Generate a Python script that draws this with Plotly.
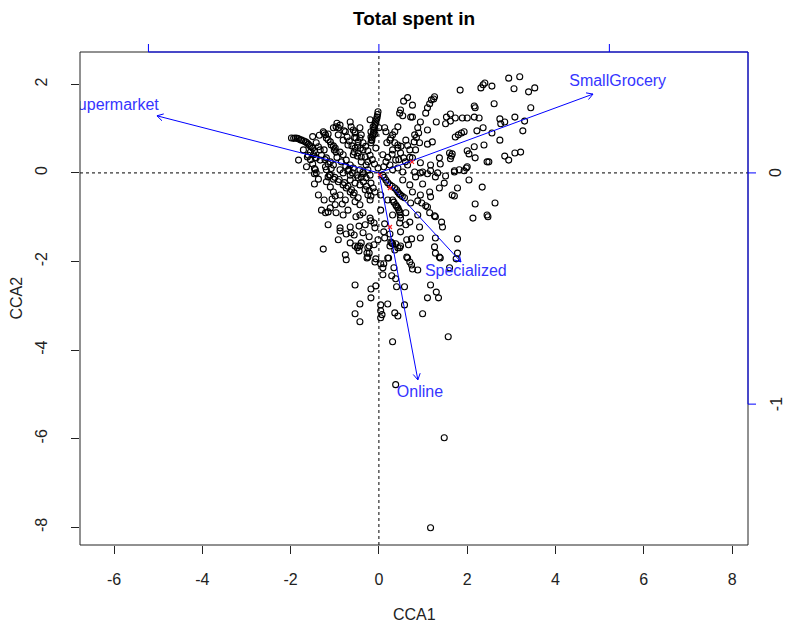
import math
import plotly.graph_objects as go

# Site scores (CCA1, CCA2), listed row by row in matching order
site_cca1 = [
    2.94, 3.19, 2.40, 2.31, 2.36, 2.56, 1.84, 3.06, 3.39, 3.53,
    2.18, 2.16, 2.61, 3.44, 1.62, 1.53, 1.73, 1.89, 2.00, 2.16,
    2.27, 2.74, 3.08, 3.30, 2.85, 2.76, 3.26, 1.30, 1.51, 1.62,
    1.10, 1.73, 1.80, 1.87, 1.93, 2.22, 2.36, 2.56, 2.74, 0.92,
    1.10, 1.21, 2.38, 1.60, 1.66, 2.00, 2.04, 2.18, 2.85, 3.08,
    3.21, 2.94, 0.76, 0.94, 1.17, 1.37, 1.39, 2.45, 2.49, 0.81,
    0.99, 1.17, 1.33, 1.71, 1.93, 2.00, 1.82, 1.98, 1.62, 1.64,
    2.16, 1.26, 1.19, 1.15, 1.10, 1.06, 1.24, 0.94, 0.88, 0.81,
    0.76, 0.76, 0.72, 0.49, 0.47, 0.54, 0.43, 0.36, 0.31, 0.27,
    0.25, 0.18, 0.43, 0.13, 0.16, 0.36, 0.43, 0.49, 0.09, 0.16,
    0.25, -0.02, -0.04, -0.07, -0.09, -0.11, -0.13, -0.16, -0.18, -0.20,
    0.00, -0.09, -0.13, -0.18, -0.18, -0.16, -0.36, -0.07, -0.02, -0.43,
    -0.54, -0.40, -0.43, -0.65, -0.63, -0.58, -0.54, -0.52, -0.47, -0.97,
    -0.92, -0.92, -0.76, -1.26, -1.21, -1.19, -1.10, -1.08, -0.99, -0.97,
    -1.42, -1.37, -1.33, -1.89, -1.82, -1.75, -1.66, -1.60, -1.53, -1.98,
    -1.64, -1.44, -1.42, -1.44, -1.55, -1.48, -1.42, -1.33, -1.19, -1.10,
    -1.03, -0.88, -0.81, -0.74, -0.65, -0.58, -0.54, -0.47, -0.40, -0.31,
    -0.25, -0.25, -0.88, -0.81, -0.65, -1.21, -1.19, -0.81, -0.70, -1.03,
    -1.15, -1.71, -1.82, -1.62, -1.24, -0.58, -0.36, -0.29, -0.43, -1.12,
    -1.46, -1.30, -1.21, -1.15, -1.10, -0.97, -0.83, -0.65, -0.63, -0.52,
    -0.36, -0.31, -0.88, -0.88, -0.65, -0.54, -0.49, -0.43, -0.36, -0.22,
    -0.25, -0.22, -0.25, -0.11, -0.07, 0.22, -0.20, -0.18, -0.11, -0.09,
    0.04, 0.13, 0.25, 0.38, 0.43, 0.49, 0.63, 0.67, 0.47, -1.26,
    -0.76, -0.74, -1.10, -1.19, -1.37, -1.46, -1.03, -0.99, -1.06, -0.65,
    -0.54, -0.43, -0.31, -0.25, -0.20, -0.18, -0.13, -0.09, 0.09, 0.16,
    0.25, 0.36, 0.43, 0.49, 0.58, 0.31, 0.38, 0.43, 0.47, 0.49,
    0.61, 0.61, 0.72, -1.15, -1.03, -0.92, -0.81, -0.74, -0.65, -0.58,
    -0.54, -0.43, -0.47, -0.76, -0.88, 0.83, 0.94, 1.10, 1.28, 1.51,
    1.71, 2.04, 2.34, 1.78, 1.48, 1.37, 0.99, 1.15, 0.94, 1.66,
    1.17, 0.88, 0.97, 1.06, 1.10, 2.18, 2.63, 1.15, 1.26, 1.28,
    2.45, 2.47, 2.13, 1.42, 1.44, 0.94, 1.78, 1.28, 1.37, 1.39,
    1.75, 0.92, 0.74, 0.49, 0.36, 0.29, 0.11, -0.09, -0.40, -0.27,
    0.04, 0.09, 0.20, 0.09, 0.29, 0.38, 0.34, 0.65, 0.70, 0.74,
    0.76, 0.88, 1.60, -0.54, -0.18, -0.07, 0.40, 0.58, 1.17, 1.30,
    1.35, 1.10, -0.18, -0.43, 0.04, 0.20, 0.58, -0.54, 0.04, 0.07,
    0.04, 0.36, 0.43, 0.99, -0.43, 1.57, 0.31, 0.38, 1.48, 1.17,
    -0.27, -0.22, -0.47, -0.45, -0.56, -0.74, 0.13, 0.25, 0.31, 0.47,
    0.27, 0.63, -0.45, 1.26, 1.78, 1.28, 1.71, -0.29, -0.36, -0.20,
    -0.47, 0.11, 0.31, 0.43, 0.54, 0.65, 0.38, 0.56, 0.70, 0.61,
    0.83, 0.31, 0.54, 0.70, 0.76, 0.88, 0.70, 0.31, 0.20, 0.04,
    0.11, -0.02, -0.43, -0.81, -0.70, -0.99, -1.24, -1.37, -0.92, -1.15,
    -1.24, -1.15, -1.03, -1.01,
    -0.79, -0.72, -0.67, -0.61, -0.56, -0.49, -0.40,
    -0.03, -0.05, -0.08, -0.10, -0.12, -0.14, -0.17,
    -1.93, -1.85, -1.78, -1.70, -1.63, -1.57, -1.50, -1.46,
    -1.60, -1.55, -1.50, -1.46,
    0.12, 0.20, 0.30, 0.40, 0.46, 0.53,
    0.34, 0.40, 0.45, 0.48,
    0.20, 0.30, 0.45, 0.60, 0.70, 0.50, 0.65, 0.80, 0.85, 0.90,
    0.56, 0.65,
    -1.10, -1.00, -0.90, -0.78, -0.70, -0.62, -0.56,
    -0.40, -0.35, -0.28, -0.22, -0.18,
    -0.70, -0.60, -0.50, -0.35,
    -0.95, -0.85, -0.75, -0.68,
    -1.30, -1.22, -1.15, -1.08,
    -0.30, -0.25, -0.20, -0.15, -0.10,
    -0.55, -0.48, -0.42,
    -0.95, -0.88, -1.35, -1.50,
]
site_cca2 = [
    2.14, 2.17, 2.03, 1.92, 1.99, 1.96, 1.87, 1.90, 1.83, 1.92,
    1.47, 1.51, 1.56, 1.47, 1.33, 1.26, 1.24, 1.24, 1.24, 1.26,
    1.24, 1.22, 1.26, 1.17, 1.15, 1.11, 0.95, 1.15, 1.11, 1.17,
    0.97, 0.81, 0.86, 0.90, 0.93, 0.95, 1.02, 0.90, 0.74, 0.68,
    0.65, 0.70, 0.63, 0.45, 0.43, 0.50, 0.43, 0.34, 0.38, 0.45,
    0.47, 0.29, 0.34, 0.23, 0.18, 0.34, 0.20, 0.25, 0.25, 0.02,
    0.02, 0.05, 0.00, 0.05, 0.05, 0.14, 0.07, 0.11, 0.32, 0.38,
    0.59, 1.72, 1.65, 1.56, 1.47, 1.35, 1.67, 1.15, 1.02, 0.86,
    1.26, 1.53, 1.26, 1.42, 1.35, 1.29, 1.04, 0.93, 0.86, 0.79,
    0.74, 0.68, 0.63, 1.02, 0.93, 0.68, 0.56, 0.45, 0.41, 0.25,
    0.18, 1.38, 1.26, 1.17, 1.08, 0.97, 0.88, 0.79, 0.68, 1.20,
    1.02, 0.88, 1.04, 0.93, 0.81, 0.74, 0.68, 0.56, 0.11, 1.02,
    0.93, 0.86, 0.79, 1.15, 1.04, 0.97, 0.90, 0.79, 0.70, 1.04,
    1.02, 0.86, 0.93, 0.93, 0.86, 0.79, 0.70, 0.63, 0.56, 0.47,
    0.68, 0.59, 0.52, 0.79, 0.77, 0.74, 0.70, 0.65, 0.59, 0.79,
    0.14, 0.07, 0.00, 0.34, 0.47, 0.41, 0.34, 0.29, 0.34, 0.25,
    0.18, 0.47, 0.41, 0.29, 0.18, 0.11, 0.56, 0.45, 0.36, 0.36,
    0.25, 0.07, 0.07, 0.00, -0.05, 0.14, 0.07, 0.74, 0.63, 1.02,
    0.88, 0.52, 0.29, 0.36, 0.52, 0.41, 0.52, 0.18, 0.07, -0.05,
    -0.25, -0.84, -0.90, -0.88, -0.79, -0.90, -0.70, -1.22, -1.35, -0.99,
    -0.90, -1.17, -1.24, -1.31, -1.58, -1.65, -1.69, -1.65, -1.35, -1.44,
    -1.69, -1.81, -1.90, -1.62, -1.94, -1.92, -1.02, -1.08, -1.13, -1.24,
    -0.84, -1.15, -1.38, -1.60, -1.69, -1.33, -1.51, -1.62, -1.13, -1.72,
    -1.85, -1.96, -0.32, -0.20, -0.14, -0.02, -0.43, -0.52, -0.59, -0.16,
    -0.23, -0.27, -0.38, -0.50, -0.61, -0.23, -0.34, -0.43, -0.05, -0.16,
    -0.27, -0.34, -0.43, -0.50, -0.56, -0.61, -0.72, -0.79, -0.88, -1.02,
    -1.17, -0.90, -0.68, -0.09, -0.14, -0.20, -0.27, -0.34, -0.43, -0.50,
    -0.65, -0.72, -0.56, -0.61, -0.50, -0.09, 0.00, -0.02, -0.09, -0.07,
    0.02, -0.16, -0.32, -0.34, -0.23, -0.34, -0.25, -0.43, -0.50, -0.50,
    -0.54, -0.63, -0.68, -0.74, -0.77, -0.70, -0.68, -0.90, -0.97, -0.99,
    -0.95, -0.99, -1.02, -1.11, -1.22, -1.47, -1.49, -1.81, -1.90, -1.92,
    -1.94, -1.22, -1.49, -1.65, -1.74, -1.58, -2.05, -2.01, -1.58, -1.92,
    -2.05, -2.14, -1.92, -2.30, -2.32, -2.39, -2.14, -1.92, -2.01, -2.08,
    -2.17, -2.19, -2.14, -2.53, -2.62, -2.55, -2.57, -2.57, -2.53, -2.69,
    -2.82, -2.82, -2.82, -2.96, -2.98, -2.96, -2.98, -3.18, -3.11, -3.20,
    -3.27, -3.16, -3.23, -3.18, -3.36, -3.70, -3.81, -4.78, -5.98, -8.01,
    -1.81, -1.65, -1.65, -1.76, -1.40, -1.38, -1.47, -1.65, -1.60, -1.69,
    -1.56, -1.90, -1.20, -1.67, -1.81, -1.47, -0.52, -0.11, 0.02, -0.05,
    -0.11, 0.14, 0.07, 0.11, 0.02, 0.18, 0.29, 0.34, 0.52, 0.74,
    0.52, 0.52, -0.16, -0.27, -0.43, -0.95, -1.11, -0.95, -0.61, -0.50,
    -1.33, -1.51, -0.95, -0.95, -0.84, -0.72, -0.61, -0.50, -1.51, -1.17,
    0.90, 0.75, 0.61, 0.52,
    0.95, 0.81, 0.72, 0.61, 0.47, 0.38, 0.25,
    1.32, 1.22, 1.12, 1.02, 0.92, 0.84, 0.74,
    0.78, 0.78, 0.75, 0.72, 0.68, 0.62, 0.56, 0.50,
    0.40, 0.30, 0.20, 0.10,
    -0.10, -0.22, -0.30, -0.38, -0.47, -0.53,
    -0.66, -0.75, -0.84, -0.95,
    0.35, 0.42, 0.30, 0.25, 0.35, 0.60, 0.62, 0.70, 0.80, 0.90,
    1.62, 1.70,
    -0.05, -0.10, -0.15, -0.22, -0.30, -0.38, -0.45,
    -0.10, -0.20, -0.30, -0.40, -0.52,
    0.05, 0.00, -0.05, -0.02,
    0.35, 0.25, 0.15, 0.08,
    0.40, 0.30, 0.20, 0.10,
    0.60, 0.50, 0.40, 0.30, 0.20,
    0.80, 0.62, 0.55,
    1.12, 1.08, 0.85, 0.82,
]

# Biplot arrows for the constraining variables (biplot-axis units)
var_names = ["Supermarket", "SmallGrocery", "Specialized", "Online"]
bp_cca1 = [-0.963, 0.929, 0.356, 0.169]
bp_cca2 = [0.247, 0.341, -0.385, -0.895]
# where each variable name is written (biplot-axis units)
lab_cca1 = [-1.154, 1.036, 0.377, 0.178]
lab_cca2 = [0.289, 0.393, -0.427, -0.952]
arrow_mult = 5.22          # scaling of the biplot axes onto the site axes
bp_ticks = [-1, 0, 1]

# Small red markers near the origin
red_cca1 = [0.02, 0.75, 0.25, 0.25]
red_cca2 = [-0.05, 0.25, -0.34, -1.22]

x_ticks = [-6, -4, -2, 0, 2, 4, 6, 8]
y_ticks = [-8, -6, -4, -2, 0, 2]
x_range = [-6.77, 8.36]
y_range = [-8.40, 2.73]

FONT = "Liberation Sans, Arial, Helvetica, sans-serif"
BLUE = "#0000FF"
LABEL_BLUE = "#3535FF"
INK = "#222222"

fig = go.Figure()

# site points
fig.add_trace(go.Scatter(
    x=site_cca1, y=site_cca2, mode="markers",
    marker=dict(symbol="circle-open", size=6, color="#000000",
                line=dict(width=1.1, color="#000000")),
    hoverinfo="skip", showlegend=False,
))

# arrows: shafts and open heads
ax, ay = [], []
hx, hy = [], []
head = 0.16
for bx, by in zip(bp_cca1, bp_cca2):
    ex, ey = bx * arrow_mult, by * arrow_mult
    ax += [0, ex, None]
    ay += [0, ey, None]
    th = math.atan2(ey, ex)
    for s in (1, -1):
        a = th + math.pi + s * math.radians(30)
        hx += [ex, ex + head * math.cos(a), None]
        hy += [ey, ey + head * math.sin(a), None]
fig.add_trace(go.Scatter(x=ax, y=ay, mode="lines",
                         line=dict(color=BLUE, width=1),
                         hoverinfo="skip", showlegend=False))
fig.add_trace(go.Scatter(x=hx, y=hy, mode="lines",
                         line=dict(color=BLUE, width=1),
                         hoverinfo="skip", showlegend=False))

fig.add_trace(go.Scatter(
    x=red_cca1, y=red_cca2, mode="markers",
    marker=dict(symbol="x-thin", size=4, line=dict(width=1.2, color="#FF2020")),
    hoverinfo="skip", showlegend=False,
))

# variable names (clipped to the plotting region)
fig.add_trace(go.Scatter(
    x=[v * arrow_mult for v in lab_cca1],
    y=[v * arrow_mult for v in lab_cca2],
    mode="text", text=var_names, textposition="middle center",
    textfont=dict(family=FONT, size=16, color=LABEL_BLUE),
    cliponaxis=True, hoverinfo="skip", showlegend=False,
))

shapes = [
    # dotted origin lines
    dict(type="line", xref="x", yref="paper", x0=0, x1=0, y0=0, y1=1,
         line=dict(color="black", width=1, dash="dot")),
    dict(type="line", xref="paper", yref="y", x0=0, x1=1, y0=0, y1=0,
         line=dict(color="black", width=1, dash="dot")),
    # frame
    dict(type="rect", xref="paper", yref="paper", x0=0, x1=1, y0=0, y1=1,
         line=dict(color=INK, width=1)),
    # biplot axes (top and right)
    dict(type="line", xref="x", yref="paper", x0=bp_ticks[0] * arrow_mult,
         x1=x_range[1], y0=1, y1=1, line=dict(color=BLUE, width=1)),
    dict(type="line", xref="paper", yref="y", x0=1, x1=1,
         y0=bp_ticks[0] * arrow_mult, y1=y_range[1],
         line=dict(color=BLUE, width=1)),
]
tick_len = 8
plot_w, plot_h = 786 - 80 - 38, 625 - 52 - 80
for t in bp_ticks:
    shapes.append(dict(type="line", xref="x", yref="paper",
                       x0=t * arrow_mult, x1=t * arrow_mult,
                       y0=1, y1=1 + tick_len / plot_h,
                       line=dict(color=BLUE, width=1)))
    if y_range[0] <= t * arrow_mult <= y_range[1]:
        shapes.append(dict(type="line", xref="paper", yref="y",
                           x0=1, x1=1 + tick_len / plot_w,
                           y0=t * arrow_mult, y1=t * arrow_mult,
                           line=dict(color=BLUE, width=1)))

annotations = [
    dict(text="<b>Total spent in</b>", xref="paper", yref="paper",
         x=0.5, y=1 + 34 / plot_h, xanchor="center", yanchor="middle",
         showarrow=False, font=dict(family=FONT, size=19, color="black")),
    dict(text="CCA1", xref="paper", yref="paper", x=0.5, y=-69 / plot_h,
         xanchor="center", yanchor="middle", showarrow=False,
         font=dict(family=FONT, size=16, color=INK)),
    dict(text="CCA2", xref="paper", yref="paper", x=-64 / plot_w, y=0.5,
         xanchor="center", yanchor="middle", textangle=-90, showarrow=False,
         font=dict(family=FONT, size=16, color=INK)),
]
for t in bp_ticks:
    if y_range[0] <= t * arrow_mult <= y_range[1]:
        annotations.append(dict(
            text=str(t), xref="paper", yref="y", x=1 + 28 / plot_w,
            y=t * arrow_mult, xanchor="center", yanchor="middle",
            textangle=-90, showarrow=False,
            font=dict(family=FONT, size=16, color=INK)))

fig.update_layout(
    width=786, height=625,
    margin=dict(l=80, r=38, t=52, b=80),
    paper_bgcolor="white", plot_bgcolor="white",
    showlegend=False,
    shapes=shapes, annotations=annotations,
    xaxis=dict(range=x_range, tickvals=x_ticks,
               ticktext=[str(v) for v in x_ticks],
               ticks="outside", ticklen=tick_len,
               tickcolor=INK, tickwidth=1, showgrid=False, zeroline=False,
               showline=False, ticklabelstandoff=12,
               tickfont=dict(family=FONT, size=16, color=INK)),
    yaxis=dict(range=y_range, tickvals=y_ticks,
               ticktext=[str(v) for v in y_ticks],
               ticks="outside", ticklen=tick_len,
               tickcolor=INK, tickwidth=1, showgrid=False, zeroline=False,
               showline=False, tickangle=-90, ticklabelstandoff=18,
               tickfont=dict(family=FONT, size=16, color=INK)),
)

fig.write_html("out.html")
